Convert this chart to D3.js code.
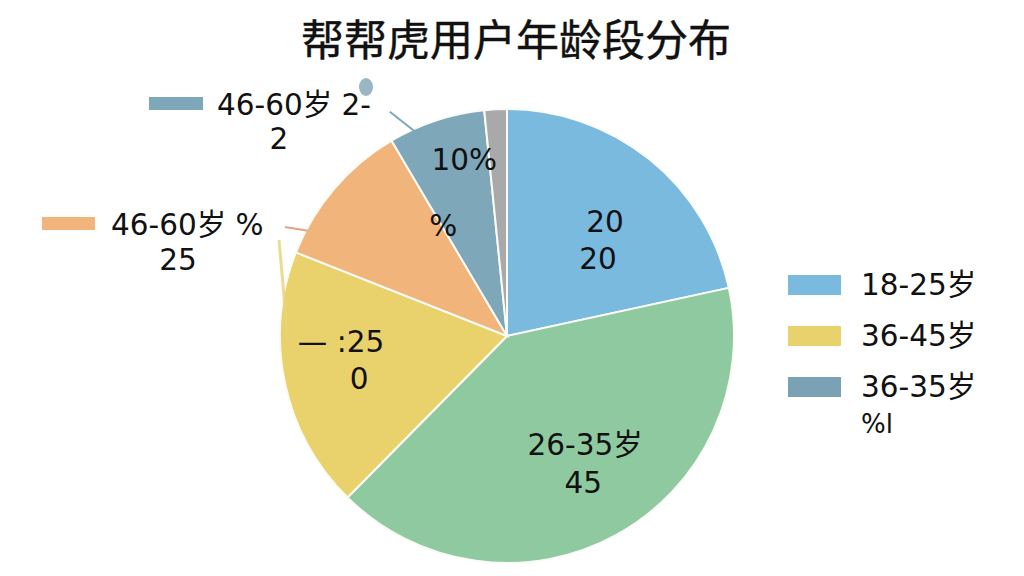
<!DOCTYPE html>
<html><head><meta charset="utf-8">
<script src="https://cdn.jsdelivr.net/npm/d3@7"></script>
<style>
html,body{margin:0;padding:0;background:#fff;}
svg{display:block;}
text{font-family:"DejaVu Sans","Noto Sans CJK SC",sans-serif;fill:#111;}
text.title{font-family:"Noto Sans CJK SC",sans-serif;font-weight:normal;stroke:#111;stroke-width:0.4px;}
</style></head>
<body>
<svg id="c" width="1024" height="576"></svg>
<script>
// ---- data ----
const title = "帮帮虎用户年龄段分布";
const categories = ["18-25岁", "26-35岁", "36-45岁", "46-60岁", "60岁以上", "其他"];
const values = [21.6, 40.8, 18.6, 10.5, 6.9, 1.6];
const colors = ["#7bbadf", "#8ec9a0", "#e9d26c", "#f1b57b", "#7ea7ba", "#a9a9a9"];
const sliceLabels = [["20", "20"], ["26-35岁", "45"], ["— :25", "0"], ["", ""], ["10%", "%"], ["", ""]];
const outerLabels = [
  {slice: 4, lines: ["46-60岁 2-", "2"]},
  {slice: 3, lines: ["46-60岁 %", "25"]}
];
const legendItems = ["18-25岁", "36-45岁", "36-35岁"];
const legendColors = ["#7bbadf", "#e9d26c", "#7ba1b4"];
const legendExtra = "%l";

// ---- drawing ----
const svg = d3.select("#c");
const cx = 507, cy = 336, R = 227;
const FS = "29.5px";

svg.append("text").attr("class", "title").attr("x", 516).attr("y", 37)
  .attr("text-anchor", "middle").attr("dominant-baseline", "central")
  .style("font-size", "43px").text(title);

const pie = d3.pie().sort(null).value(d => d);
const arcs = pie(values);
const arc = d3.arc().innerRadius(0).outerRadius(R);

const g = svg.append("g").attr("transform", `translate(${cx},${cy})`);
g.selectAll("path.slice").data(arcs).join("path")
  .attr("class", "slice")
  .attr("d", arc)
  .attr("fill", (d, i) => colors[i])
  .attr("stroke", "#fbfbf6").attr("stroke-width", 2);

function polar(angDeg, r) {
  const a = angDeg * Math.PI / 180;
  return [r * Math.sin(a), -r * Math.cos(a)];
}
function mid(d) { return (d.startAngle + d.endAngle) / 2 * 180 / Math.PI; }
function deg(a) { return a * 180 / Math.PI; }

const place = [
  {da: 5.5, r: 133, dx: [5, -2], gap: 37},
  {da: -2.6, r: 150, dx: [0, -2], gap: 38},
  {da: 2.5, r: 150, dx: [-18, 0], gap: 37},
  null,
  {},
  null
];
arcs.forEach((d, i) => {
  const p = place[i];
  if (!p) return;
  const lines = sliceLabels[i];
  if (i === 4) {
    const a1 = polar(mid(d) + 4.5, 181), a2 = polar(mid(d) - 13, 127);
    g.append("text").attr("x", a1[0]).attr("y", a1[1]).attr("text-anchor", "middle")
      .attr("dominant-baseline", "central").style("font-size", FS).text(lines[0]);
    g.append("text").attr("x", a2[0] + 2).attr("y", a2[1] - 1).attr("text-anchor", "middle")
      .attr("dominant-baseline", "central").style("font-size", FS).text(lines[1]);
    return;
  }
  const c = polar(mid(d) + p.da, p.r);
  lines.forEach((t, k) => {
    g.append("text").attr("x", c[0] + p.dx[k]).attr("y", c[1] + (k - 0.5) * p.gap)
      .attr("text-anchor", "middle").attr("dominant-baseline", "central")
      .style("font-size", FS).text(t);
  });
});

// steel outer label (top-left)
{
  const d = arcs[4];
  const edge = polar(deg(d.startAngle) + 6.8, R - 6);
  g.append("line").attr("x1", edge[0]).attr("y1", edge[1])
    .attr("x2", edge[0] - 28).attr("y2", edge[1] - 22)
    .attr("stroke", colors[4]).attr("stroke-width", 2);
  svg.append("rect").attr("x", 149).attr("y", 97).attr("width", 54).attr("height", 13).attr("fill", colors[4]);
  svg.append("text").attr("x", 217).attr("y", 105).attr("dominant-baseline", "central")
    .style("font-size", FS).text(outerLabels[0].lines[0]);
  svg.append("text").attr("x", 279).attr("y", 139).attr("text-anchor", "middle").attr("dominant-baseline", "central")
    .style("font-size", FS).text(outerLabels[0].lines[1]);
  svg.append("ellipse").attr("cx", 366).attr("cy", 87).attr("rx", 7).attr("ry", 9).attr("fill", "#9ab6c4");
}
// orange outer label (left)
{
  const d = arcs[3];
  const edge = polar(deg(d.startAngle) + 6, R);
  g.append("line").attr("x1", edge[0] + 2).attr("y1", edge[1])
    .attr("x2", 285 - cx).attr("y2", 227 - cy)
    .attr("stroke", "#ec9f80").attr("stroke-width", 2);
  svg.append("line").attr("x1", 279).attr("y1", 240).attr("x2", 288).attr("y2", 342)
    .attr("stroke", "#e8d478").attr("stroke-width", 3).attr("opacity", 0.8);
  svg.append("rect").attr("x", 42).attr("y", 217).attr("width", 53).attr("height", 13).attr("fill", colors[3]);
  svg.append("text").attr("x", 111).attr("y", 225).attr("dominant-baseline", "central")
    .style("font-size", FS).text(outerLabels[1].lines[0]);
  svg.append("text").attr("x", 178).attr("y", 260).attr("text-anchor", "middle").attr("dominant-baseline", "central")
    .style("font-size", FS).text(outerLabels[1].lines[1]);
}

// legend
const lg = svg.append("g").attr("transform", "translate(788,285)");
legendItems.forEach((t, i) => {
  const y = i * 51;
  lg.append("rect").attr("x", 0).attr("y", y - 10).attr("width", 53).attr("height", 20).attr("fill", legendColors[i]);
  lg.append("text").attr("x", 73).attr("y", y).attr("dominant-baseline", "central")
    .style("font-size", FS).text(t);
});
lg.append("text").attr("x", 73).attr("y", 3 * 51 - 14).attr("dominant-baseline", "central")
  .style("font-size", "26px").text(legendExtra);
</script>
</body></html>
